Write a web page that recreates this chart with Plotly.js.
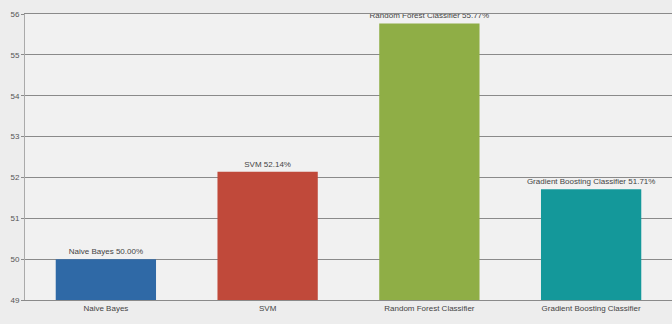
<!DOCTYPE html>
<html><head><meta charset="utf-8">
<script src="https://cdn.plot.ly/plotly-3.0.1.min.js"></script>
<style>html,body{margin:0;padding:0;background:#ececec;}#chart{width:672px;height:324px;}</style>
</head><body><div id="chart"></div>
<script>
const categories = ["Naive Bayes", "SVM", "Random Forest Classifier", "Gradient Boosting Classifier"];
const accuracy = [50.00, 52.14, 55.77, 51.71];
const barLabels = ["Naive Bayes 50.00%", "SVM 52.14%", "Random Forest Classifier 55.77%", "Gradient Boosting Classifier 51.71%"];
const barColors = ["#2f69a6", "#c0493a", "#8fae46", "#14989a"];
const yTicks = [49, 50, 51, 52, 53, 54, 55, 56];

Plotly.newPlot("chart", [{
  type: "bar",
  x: categories,
  y: accuracy,
  text: barLabels,
  textposition: "outside",
  constraintext: "none",
  cliponaxis: false,
  textfont: {family: "Liberation Sans, Arial", size: 8, color: "#444"},
  marker: {color: barColors},
  width: 0.62,
  hoverinfo: "none"
}], {
  width: 672, height: 324,
  margin: {l: 25, r: 0, t: 14, b: 24},
  paper_bgcolor: "#ededed",
  plot_bgcolor: "#f1f1f1",
  showlegend: false,
  xaxis: {
    type: "category",
    tickfont: {family: "Liberation Sans, Arial", size: 8, color: "#444"},
    showgrid: false, zeroline: false,
    showline: true, mirror: true, linecolor: "#8a8a8a",
    ticks: "", ticklen: 0
  },
  yaxis: {
    range: [49, 56],
    tickvals: yTicks,
    ticktext: yTicks.map(String),
    tickfont: {family: "Liberation Sans, Arial", size: 8, color: "#555"},
    showgrid: true, gridcolor: "#8a8a8a", gridwidth: 1,
    zeroline: false,
    showline: true, linecolor: "#aaaaaa",
    ticks: "outside", ticklen: 3, tickcolor: "#8a8a8a"
  }
}, {staticPlot: true});
</script>
</body></html>
